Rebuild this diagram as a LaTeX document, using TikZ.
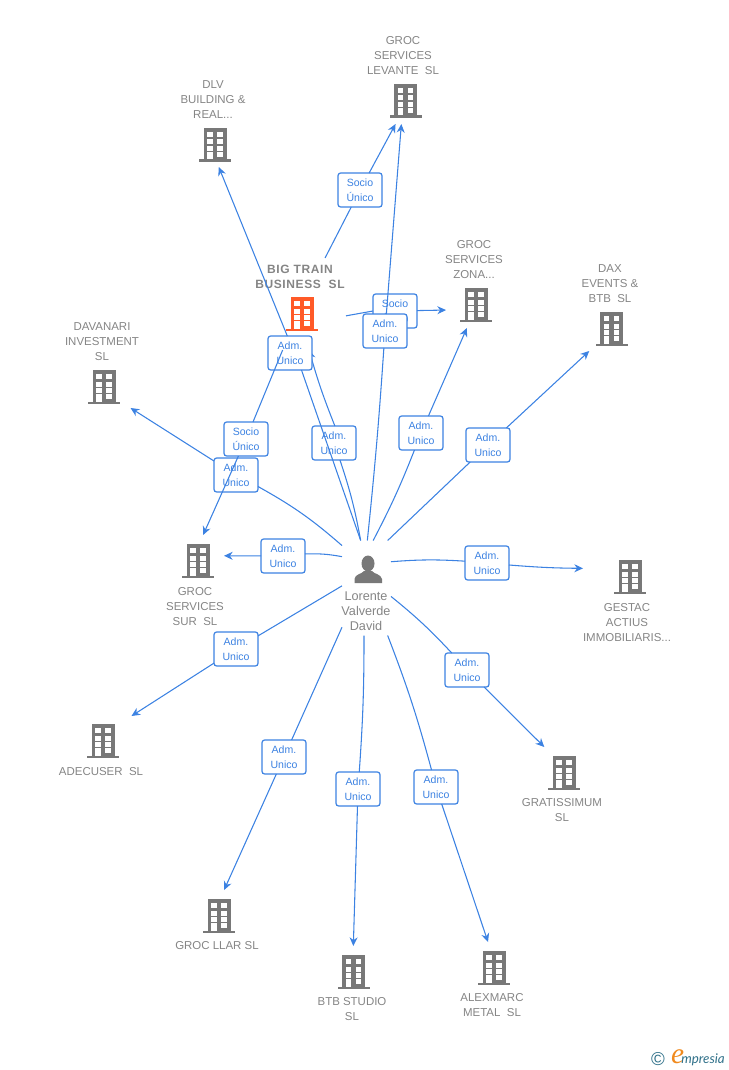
\documentclass[tikz,border=0pt]{standalone}
\usepackage{fontspec}
\setmainfont{Liberation Sans}
\newfontfamily\trainfont[LetterSpace=5]{Liberation Sans}
\newfontfamily\logofont{Lato}
\newfontfamily\logoefont{Liberation Serif}
\usetikzlibrary{arrows.meta}

\definecolor{linkblue}{HTML}{3C82E2}
\definecolor{bldgrey}{HTML}{787878}
\definecolor{txtgrey}{HTML}{858585}
\definecolor{bldorange}{HTML}{FF5A28}
\definecolor{logoteal}{HTML}{2F7089}
\definecolor{logoorange}{HTML}{F08A1E}

\tikzset{
    hit/.style={inner sep=0pt,outer sep=0pt},
    rolebox/.style={draw=linkblue,fill=white,rounded corners=2pt,line width=0.9pt,text=linkblue,
        font=\fontsize{7.9}{11.2}\selectfont,align=center,minimum width=33pt,minimum height=25.5pt,
        inner sep=0pt,outer sep=0pt},
    txt/.style={text=txtgrey,font=\fontsize{8.6}{11.25}\selectfont,align=center,inner sep=0pt,yshift=-0.7pt},
    link/.style={draw=linkblue,line width=0.8pt},
    tolink/.style={link,-{Stealth[length=6.5pt,width=6pt]}},
    pics/bldg/.style={code={
        \fill[#1] (-11.5,-17) rectangle (11.5,14.5);
        \fill[#1] (-16,14.5) rectangle (16,17);
        \foreach \wy in {-13,-5.5,1,7} {
            \fill[white] (2.2,\wy) rectangle (7.8,\wy+5);
        }
        \foreach \wy in {-13,-5.5,1} {
            \fill[white] (-7.8,\wy) rectangle (-2.2,\wy+5);
        }
        \fill[white] (-7.8,7) rectangle (-2.2,14.5);
    }}
}

\begin{document}
\begin{tikzpicture}[x=0.75pt,y=-0.75pt]
    \useasboundingbox (0,0) rectangle (728,1070);

    % person in the middle
    \node[hit,minimum width=36.75pt,minimum height=71.25pt] (lorente) at (366.5,588) {};
    \fill[bldgrey] (368,563.5) ellipse (6.5 and 8);
    \fill[bldgrey] (354.5,583) -- (354.5,579) .. controls (355,574) and (362,574) .. (364,571) -- (372,571) .. controls (374,574) and (381,574) .. (382,579) -- (382,583) -- cycle;
    \node[txt,font=\fontsize{9.5}{11.25}\selectfont] (lorentetxt) at (366,610) {Lorente\\Valverde\\David};

    % companies
    \node[hit,minimum width=64.5pt,minimum height=70.5pt] (levante) at (403,77) {};
    \pic at (405.5,101) {bldg=bldgrey};
    \node[txt] (levantetxt) at (403,55) {GROC\\SERVICES\\LEVANTE\ \ SL};

    \node[hit,minimum width=55.5pt,minimum height=70.5pt] (dlv) at (213,120) {};
    \pic at (215,145) {bldg=bldgrey};
    \node[txt] (dlvtxt) at (213,99) {DLV\\BUILDING \&\\REAL...};

    \node[hit,minimum width=71.25pt,minimum height=69pt] (bigtrain) at (298.5,304) {};
    \pic at (302,314) {bldg=bldorange};
    \node[txt,font=\fontsize{9}{11.25}\trainfont\bfseries] (bigtraintxt) at (300,275.5) {BIG TRAIN\\BUSINESS\ \ SL};

    \node[hit,minimum width=42pt,minimum height=67.5pt] (zona) at (474,283) {};
    \pic at (476,305) {bldg=bldgrey};
    \node[txt] (zonatxt) at (474,259) {GROC\\SERVICES\\ZONA...};

    \node[hit,minimum width=42pt,minimum height=66.75pt] (dax) at (610,306.5) {};
    \pic at (611.5,329) {bldg=bldgrey};
    \node[txt] (daxtxt) at (610,283) {DAX\\EVENTS \&\\BTB\ \ SL};

    \node[hit,minimum width=57pt,minimum height=66pt] (davanari) at (102,364) {};
    \pic at (104,387) {bldg=bldgrey};
    \node[txt] (davanaritxt) at (102,341) {DAVANARI\\INVESTMENT\\SL};

    \node[hit,minimum width=43.5pt,minimum height=69pt] (sur) at (195,581) {};
    \pic at (198,561) {bldg=bldgrey};
    \node[txt] (surtxt) at (195,606) {GROC\\SERVICES\\SUR\ \ SL};

    \node[hit,minimum width=66pt,minimum height=62.25pt] (gestac) at (627,601.5) {};
    \pic at (630,577) {bldg=bldgrey};
    \node[txt] (gestactxt) at (627,622) {GESTAC\\ACTIUS\\IMMOBILIARIS...};

    \node[hit,minimum width=63pt,minimum height=45.75pt] (adecuser) at (101,746.5) {};
    \pic at (103,741) {bldg=bldgrey};
    \node[txt] (adecusertxt) at (101,771) {ADECUSER\ \ SL};

    \node[hit,minimum width=60pt,minimum height=57pt] (gratis) at (562,785) {};
    \pic at (564,773) {bldg=bldgrey};
    \node[txt] (gratistxt) at (562,809.5) {GRATISSIMUM\\SL};

    \node[hit,minimum width=62.25pt,minimum height=45.75pt] (llar) at (216.5,920.5) {};
    \pic at (219,916) {bldg=bldgrey};
    \node[txt] (llartxt) at (217,945) {GROC LLAR SL};

    \node[hit,minimum width=51pt,minimum height=57pt] (btbstudio) at (352,984) {};
    \pic at (353.5,972) {bldg=bldgrey};
    \node[txt] (btbstudiotxt) at (352,1008.5) {BTB STUDIO\\SL};

    \node[hit,minimum width=48pt,minimum height=57pt] (alexmarc) at (492,980) {};
    \pic at (494,968) {bldg=bldgrey};
    \node[txt] (alexmarctxt) at (492,1004.5) {ALEXMARC\\METAL\ \ SL};

    % socio box hidden under the next one
    \node[rolebox] (soczona) at (395,311) {Socio\\Único};
    \draw[link] (bigtrain.-14.2) -- (soczona.west);
    \draw[tolink] (soczona) -- (zona.224);

    % adm links from the person
    \node[rolebox] (admdax) at (488,445) {Adm.\\Unico};
    \draw[link] (lorente.66.4) -- (admdax);
    \draw[tolink] (admdax) -- (dax.245.8);

    \node[rolebox] (admzona) at (421,433) {Adm.\\Unico};
    \draw[link] (lorente.82.1) to[bend right=3] (admzona);
    \draw[tolink] (admzona) -- (zona.261.2);

    \node[rolebox] (admlevante) at (385,331) {Adm.\\Unico};
    \draw[link] (lorente.89.4) to[bend right=1] (admlevante);
    \draw[tolink] (admlevante) -- (levante.268.8);

    \node[rolebox] (admtrain) at (334,443) {Adm.\\Unico};
    \draw[link] (lorente.97.7) to[bend right=4] (admtrain);
    \draw[tolink] (admtrain.87) to[bend left=3] (bigtrain.-77.1);

    \node[rolebox] (admdlv) at (290,353) {Adm.\\Unico};
    \draw[link] (lorente.97.7) -- (admdlv.-56);
    \draw[tolink] (admdlv.99.5) -- (dlv.277.3);

    \node[rolebox] (admdavanari) at (236,475) {Adm.\\Unico};
    \draw[link] (lorente.120.3) to[bend right=6] (admdavanari);
    \draw[tolink] (admdavanari) -- (davanari.303.4);

    \node[rolebox] (admsur) at (283,556) {Adm.\\Unico};
    \draw[link] (lorente.128.3) to[bend right=6] (admsur);
    \draw[tolink] (admsur) -- (sur.41.9);

    \node[rolebox] (admgestac) at (487,563) {Adm.\\Unico};
    \draw[link] (lorente.47.8) to[bend left=4] (admgestac);
    \draw[tolink] (admgestac) to[bend right=2] (gestac.143.5);

    \node[rolebox] (admgratis) at (467,670) {Adm.\\Unico};
    \draw[link] (lorente.-19.8) to[bend left=4] (admgratis);
    \draw[tolink] (admgratis) -- (gratis.115.3);

    \node[rolebox] (admadecuser) at (236,649) {Adm.\\Unico};
    \draw[link] (lorente.175.3) -- (admadecuser);
    \draw[tolink] (admadecuser) -- (adecuser.45.5);

    \node[rolebox] (admllar) at (284,757) {Adm.\\Unico};
    \draw[link] (lorente.238.5) -- (admllar);
    \draw[tolink] (admllar) -- (llar.76.2);

    \node[rolebox] (admbtb) at (358,789) {Adm.\\Unico};
    \draw[link] (lorente.267) to[bend left=2] (admbtb);
    \draw[tolink] (admbtb) -- (btbstudio.88.5);

    \node[rolebox] (admalex) at (436,787) {Adm.\\Unico};
    \draw[link] (lorente.-66.9) to[bend left=3] (admalex);
    \draw[tolink] (admalex) -- (alexmarc.96);

    % socio links from big train
    \node[rolebox] (soclevante) at (360,190) {Socio\\Único};
    \draw[link] (bigtrain.60) -- (soclevante);
    \draw[tolink] (soclevante) -- (levante.261.5);

    \node[rolebox] (socsur) at (246,439) {Socio\\Único};
    \draw[link] (bigtrain.251.4) -- (socsur);
    \draw[tolink] (socsur) -- (sur.80.1);

    % logo
    \node[text=logoteal,font=\fontsize{14}{14}\selectfont,inner sep=0pt] (logoc) at (658,1059) {©};
    \node[text=logoorange,font=\fontsize{22}{22}\logoefont\itshape,inner sep=0pt] (logoe) at (677.5,1057) {e};
    \node[text=logoteal,font=\fontsize{10}{10}\logofont\itshape,inner sep=0pt,anchor=base west] (logotxt) at (681,1063) {mpresia};
\end{tikzpicture}
\end{document}
